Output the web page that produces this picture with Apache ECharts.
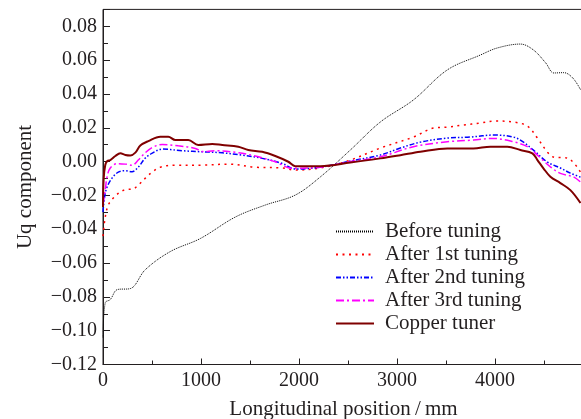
<!DOCTYPE html>
<html>
<head>
<meta charset="utf-8">
<script src="https://cdn.jsdelivr.net/npm/echarts@6/dist/echarts.min.js"></script>
<style>
  html, body { margin: 0; padding: 0; background: #fff; }
  #chart { width: 581px; height: 419px; }
</style>
</head>
<body>
<div id="chart"></div>
<script>
// Uq component along the tuner
const legendNames = ['Before tuning', 'After 1st tuning', 'After 2nd tuning', 'After 3rd tuning', 'Copper tuner'];

const beforeTuning = [
  [0, -0.104], [23, -0.0834], [74, -0.0816], [146, -0.0757], [279, -0.0751], [432, -0.0639],
  [687, -0.0532], [993, -0.0455], [1350, -0.0328], [1656, -0.0257], [1962, -0.0198],
  [2217, -0.0091], [2523, 0.0068], [2830, 0.0234], [3166, 0.0364], [3513, 0.0542],
  [3850, 0.063], [4024, 0.0672], [4259, 0.0695], [4392, 0.066], [4518, 0.0583],
  [4600, 0.0524], [4702, 0.0526], [4794, 0.0494], [4875, 0.0423]
];

const after1st = [
  [0, -0.0441], [23, -0.0328], [54, -0.0257], [105, -0.0216], [177, -0.018], [248, -0.0163],
  [299, -0.0163], [360, -0.0139], [432, -0.0098], [503, -0.0062], [585, -0.0033],
  [738, -0.0021], [1013, -0.0021], [1279, -0.0015], [1554, -0.0033], [1829, -0.0038],
  [1962, -0.005], [2217, -0.0038], [2523, 0.0009], [2830, 0.008], [3166, 0.0145],
  [3370, 0.0198], [3513, 0.0204], [3676, 0.0216], [3850, 0.0228], [4004, 0.024],
  [4188, 0.0234], [4331, 0.021], [4433, 0.0139], [4535, 0.0056], [4596, 0.0027],
  [4739, 0.0021], [4872, -0.0062]
];

const after2nd = [
  [0, -0.0299], [16, -0.021], [41, -0.0151], [92, -0.0098], [156, -0.0062], [228, -0.0054],
  [296, -0.006], [360, -0.0033], [432, 0.0021], [503, 0.005], [605, 0.0074], [809, 0.0064],
  [1013, 0.0058], [1217, 0.0052], [1421, 0.0038], [1625, 0.0019], [1829, -0.0011],
  [1962, -0.0044], [2217, -0.0033], [2523, 0.0003], [2830, 0.0039], [3034, 0.008],
  [3238, 0.0115], [3513, 0.0139], [3748, 0.0145], [3983, 0.0157], [4188, 0.0145],
  [4290, 0.0115], [4392, 0.0068], [4535, -0.0003], [4667, -0.0038], [4769, -0.0068],
  [4872, -0.0092]
];

const after3rd = [
  [0, -0.0257], [23, -0.0169], [41, -0.0092], [74, -0.0038], [146, -0.0012], [228, -0.0015],
  [296, -0.0021], [360, 0.0009], [432, 0.0053], [513, 0.0086], [605, 0.0101], [768, 0.0093],
  [942, 0.0078], [1013, 0.0059], [1146, 0.0064], [1350, 0.0055], [1554, 0.0033],
  [1758, -0.0001], [1932, -0.004], [2217, -0.0033], [2523, 0.0], [2830, 0.0028],
  [3166, 0.0088], [3513, 0.0117], [3779, 0.0127], [3983, 0.0137], [4188, 0.0117],
  [4331, 0.0088], [4433, 0.0038], [4565, -0.0031], [4667, -0.007], [4800, -0.009],
  [4872, -0.0121]
];

const copperTuner = [
  [0, -0.0269], [6, -0.0108], [23, -0.002], [44, 0.0003], [74, 0.0009], [126, 0.0033],
  [177, 0.0049], [228, 0.0039], [279, 0.0036], [330, 0.0053], [381, 0.0095], [462, 0.0121],
  [585, 0.0147], [666, 0.0147], [738, 0.0127], [870, 0.0127], [972, 0.0098], [1115, 0.0104],
  [1217, 0.0098], [1381, 0.0088], [1483, 0.0068], [1625, 0.0058], [1758, 0.0033],
  [1891, -0.0001], [1962, -0.0027], [2217, -0.0027], [2523, -0.0006], [2830, 0.0019],
  [3034, 0.0038], [3238, 0.0058], [3513, 0.0078], [3779, 0.0078], [3953, 0.0088],
  [4126, 0.0088], [4259, 0.0068], [4381, 0.0049], [4433, 0.0009], [4494, -0.004],
  [4565, -0.0089], [4667, -0.0127], [4769, -0.0169], [4872, -0.0245]
];

const ink = '#231f20';
const font = 'Liberation Serif';

function line (name, data, color, width, dash) {
  return {
    name: name,
    type: 'line',
    data: data,
    symbol: 'none',
    smooth: 0.35,
    lineStyle: { color: color, width: width, type: dash },
    itemStyle: { color: color }
  };
}

const chart = echarts.init(document.getElementById('chart'));
chart.setOption({
  animation: false,
  backgroundColor: '#fff',
  textStyle: { fontFamily: font, color: ink },
  grid: {
    left: 103, right: -3, top: 9.4, bottom: 54.5,
    outerBoundsMode: 'none',
    containLabel: false,
    show: true, borderColor: ink, borderWidth: 1, backgroundColor: 'transparent'
  },
  legend: {
    orient: 'vertical',
    left: 335,
    top: 221,
    padding: 0,
    itemWidth: 38,
    itemHeight: 14,
    itemGap: 2,
    itemStyle: { opacity: 0 },
    data: legendNames,
    textStyle: { fontFamily: font, fontSize: 21, color: ink, lineHeight: 20, padding: [0, 0, 0, 6] }
  },
  xAxis: {
    type: 'value',
    min: 0,
    max: 4908,
    interval: 1000,
    name: 'Longitudinal position\u2009/\u2009mm',
    nameLocation: 'middle',
    nameGap: 34,
    nameTextStyle: { fontFamily: font, fontSize: 21, color: ink },
    axisLine: { onZero: false, lineStyle: { color: ink, width: 1 } },
    axisTick: { inside: true, length: 6, lineStyle: { color: ink } },
    minorTick: { show: true, splitNumber: 2, length: 4, lineStyle: { color: ink } },
    splitLine: { show: false },
    axisLabel: {
      fontFamily: font, fontSize: 20, color: ink, margin: 6, showMaxLabel: false,
      formatter: function (v) { return v % 1000 === 0 ? String(v) : ''; }
    }
  },
  yAxis: {
    type: 'value',
    min: -0.12,
    max: 0.09,
    interval: 0.02,
    name: 'Uq component',
    nameLocation: 'middle',
    nameGap: 67,
    nameTextStyle: { fontFamily: font, fontSize: 21, color: ink },
    axisLine: { onZero: false, lineStyle: { color: ink, width: 1 } },
    axisTick: { inside: true, length: 7, lineStyle: { color: ink } },
    minorTick: { show: true, splitNumber: 2, length: 5, lineStyle: { color: ink } },
    splitLine: { show: false },
    axisLabel: {
      fontFamily: font, fontSize: 20, color: ink, margin: 6, showMaxLabel: false,
      formatter: function (v) {
        if (v > 0.085) return '';
        return v.toFixed(2).replace('-', '\u2212');
      }
    }
  },
  series: [
    line(legendNames[0], beforeTuning, '#000000', 1, [1, 1]),
    line(legendNames[1], after1st, '#ff0000', 1.5, [2, 4.5]),
    line(legendNames[2], after2nd, '#0000ff', 1.5, [5, 2, 1.5, 2, 1.5, 2]),
    line(legendNames[3], after3rd, '#ff00ff', 1.5, [8, 3, 2, 3]),
    line(legendNames[4], copperTuner, '#7f0000', 2, 'solid')
  ]
});
</script>
</body>
</html>
